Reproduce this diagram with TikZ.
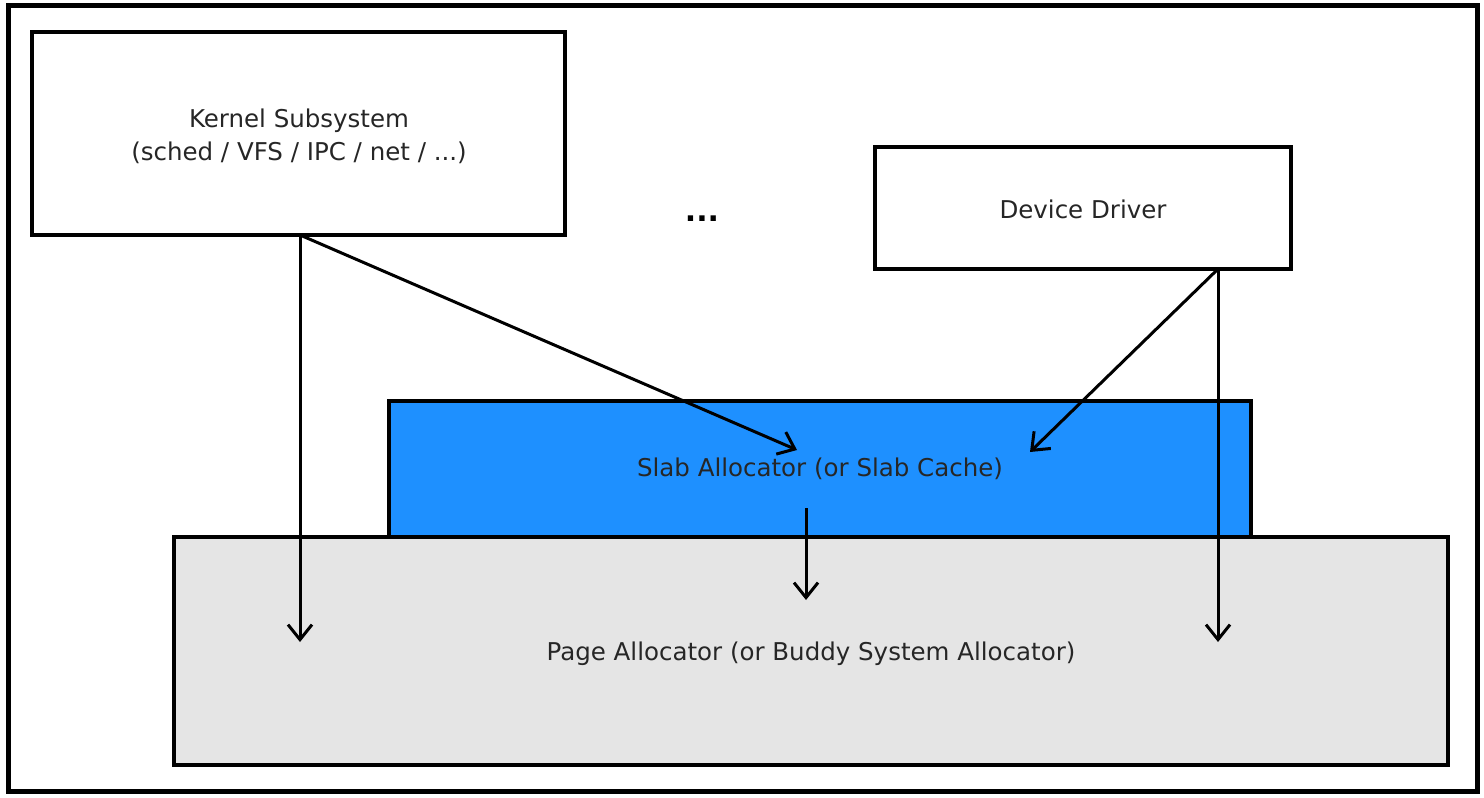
\documentclass[tikz,border=0pt]{standalone}
\usepackage{fontspec}
\setmainfont{DejaVu Sans}
\usetikzlibrary{arrows.meta}
\definecolor{slabblue}{RGB}{30,144,255}
\definecolor{pagegray}{RGB}{229,229,229}
\begin{document}
\begin{tikzpicture}[x=1pt,y=-1pt,
  box/.style={draw=black,line width=3.2pt},
  conn/.style={line width=3pt,-{Straight Barb[length=15pt,width=24pt,line width=3pt]}},
  lbl/.style={font=\fontsize{24.5}{33}\selectfont,text=black!85,align=center}]
\useasboundingbox (0,0) rectangle (1484,798);
\fill[white] (0,0) rectangle (1484,798);
\draw[line width=5pt] (8,5) rectangle (1477,791);
% boxes
\draw[box,fill=pagegray] (174,537) rectangle (1448,765);
\draw[box,fill=slabblue] (389,401) rectangle (1251,537);
\draw[box,fill=white] (32,32) rectangle (565,235);
\draw[box,fill=white] (875,147) rectangle (1291,269);
\node[lbl] (page) at (811,654) {Page Allocator (or Buddy System Allocator)};
\node[lbl] (slab) at (820,469) {Slab Allocator (or Slab Cache)};
\node[lbl] (kern) at (299,136) {Kernel Subsystem\\(sched / VFS / IPC / net / ...)};
\node[lbl] (dd) at (1083,209) {Device Driver};
\node[font=\fontsize{30}{32}\selectfont\bfseries] (dots) at (702,219) {...};
% connector coordinates
\coordinate (kout) at (300,235);
\coordinate (kpage) at (300,642);
\coordinate (kslab) at (797,450);
\coordinate (dout) at (1218,269);
\coordinate (dslab) at (1030,452);
\coordinate (dpage) at (1218,642);
\coordinate (sout) at (806,508);
\coordinate (spage) at (806,600);
\draw[conn] (kout) -- (kpage);
\draw[conn] (kout) -- (kslab);
\draw[conn] (dout) -- (dslab);
\draw[conn] (dout) -- (dpage);
\draw[conn] (sout) -- (spage);
\end{tikzpicture}
\end{document}
